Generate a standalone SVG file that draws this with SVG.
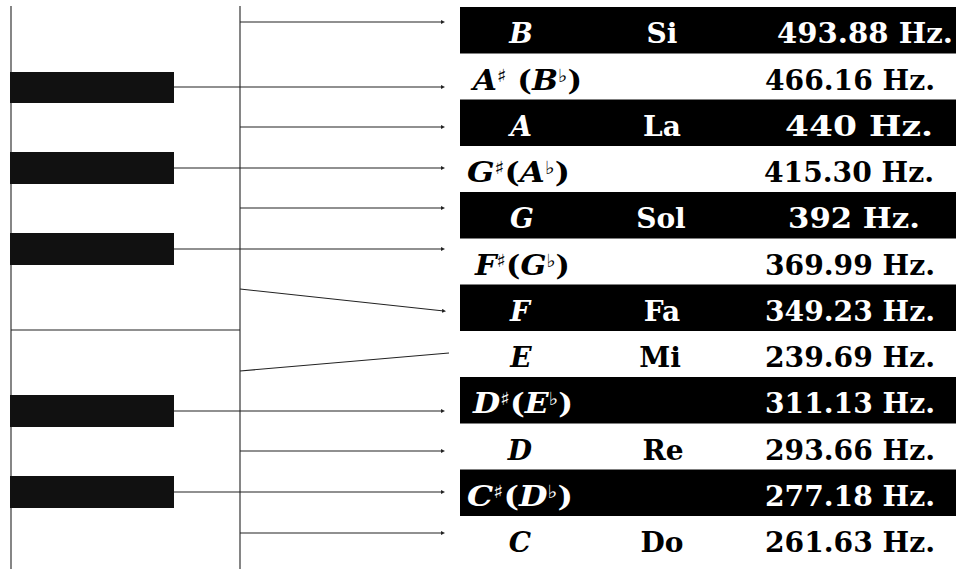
<svg xmlns="http://www.w3.org/2000/svg" width="956" height="571" viewBox="0 0 956 571">
<style>
.bg{fill:#ffffff}
.key{fill:#111111}
.wire{stroke:#222222;stroke-width:1.1;fill:none}
.bar{fill:#000000}
.t{font-family:"DejaVu Serif","Liberation Serif",serif;font-weight:bold;font-size:28px}
.w{fill:#ffffff}
.k{fill:#000000}
.it{font-style:italic}
.acc{font-size:18px;font-style:normal}
</style>
<defs>
<marker id="dot" viewBox="0 0 6 6" refX="3" refY="3" markerWidth="4" markerHeight="4" orient="auto" markerUnits="userSpaceOnUse">
<path d="M0,0 L6,3 L0,6 Z" fill="#222222"/>
</marker>
</defs>
<rect class="bg" x="0" y="0" width="956" height="571"/>
<g id="piano">
<line class="wire" x1="11" y1="6" x2="11" y2="569"/>
<line class="wire" x1="240" y1="6" x2="240" y2="569"/>
<line class="wire" x1="11" y1="330" x2="240" y2="330"/>
<rect class="key" x="10" y="72" width="164" height="31"/>
<rect class="key" x="10" y="152" width="164" height="32"/>
<rect class="key" x="10" y="233" width="164" height="32"/>
<rect class="key" x="10" y="395" width="164" height="32"/>
<rect class="key" x="10" y="476" width="164" height="32"/>
</g>
<g id="connectors">
<line class="wire" x1="240" y1="22" x2="443" y2="22" marker-end="url(#dot)"/>
<line class="wire" x1="174" y1="87" x2="443" y2="87" marker-end="url(#dot)"/>
<line class="wire" x1="240" y1="127" x2="443" y2="127" marker-end="url(#dot)"/>
<line class="wire" x1="174" y1="168" x2="443" y2="168" marker-end="url(#dot)"/>
<line class="wire" x1="240" y1="208" x2="443" y2="208" marker-end="url(#dot)"/>
<line class="wire" x1="174" y1="249" x2="443" y2="249" marker-end="url(#dot)"/>
<line class="wire" x1="240" y1="289" x2="444" y2="311" marker-end="url(#dot)"/>
<line class="wire" x1="240" y1="371" x2="449" y2="353"/>
<line class="wire" x1="174" y1="411" x2="443" y2="411" marker-end="url(#dot)"/>
<line class="wire" x1="240" y1="451" x2="443" y2="451" marker-end="url(#dot)"/>
<line class="wire" x1="174" y1="492" x2="443" y2="492" marker-end="url(#dot)"/>
<line class="wire" x1="240" y1="533" x2="443" y2="533" marker-end="url(#dot)"/>
</g>
<g id="row-B">
<rect class="bar" x="460" y="7" width="496" height="46.5"/>
<text class="t w it" x="521" y="43" text-anchor="middle">B</text>
<text class="t w" x="662" y="43" text-anchor="middle">Si</text>
<text class="t w" x="777" y="43" textLength="176" lengthAdjust="spacingAndGlyphs">493.88 Hz.</text>
</g>
<g id="row-Asharp">
<text class="t k" x="473" y="89.5" textLength="109" lengthAdjust="spacingAndGlyphs"><tspan class="it">A</tspan><tspan class="acc" dy="-8">♯</tspan><tspan dy="8"> (</tspan><tspan class="it">B</tspan><tspan class="acc" dy="-8">♭</tspan><tspan dy="8">)</tspan></text>
<text class="t k" x="765" y="89.5" textLength="170" lengthAdjust="spacingAndGlyphs">466.16 Hz.</text>
</g>
<g id="row-A">
<rect class="bar" x="460" y="99.5" width="496" height="46.5"/>
<text class="t w it" x="521" y="135.5" text-anchor="middle">A</text>
<text class="t w" x="662" y="135.5" text-anchor="middle">La</text>
<text class="t w" x="785" y="135.5" textLength="148" lengthAdjust="spacingAndGlyphs">440 Hz.</text>
</g>
<g id="row-Gsharp">
<text class="t k" x="467" y="182" textLength="103" lengthAdjust="spacingAndGlyphs"><tspan class="it">G</tspan><tspan class="acc" dy="-8">♯</tspan><tspan dy="8">(</tspan><tspan class="it">A</tspan><tspan class="acc" dy="-8">♭</tspan><tspan dy="8">)</tspan></text>
<text class="t k" x="764" y="182" textLength="170" lengthAdjust="spacingAndGlyphs">415.30 Hz.</text>
</g>
<g id="row-G">
<rect class="bar" x="460" y="192" width="496" height="46.5"/>
<text class="t w it" x="522" y="228" text-anchor="middle">G</text>
<text class="t w" x="661" y="228" text-anchor="middle">Sol</text>
<text class="t w" x="788" y="228" textLength="132" lengthAdjust="spacingAndGlyphs">392 Hz.</text>
</g>
<g id="row-Fsharp">
<text class="t k" x="475" y="274.5" textLength="95" lengthAdjust="spacingAndGlyphs"><tspan class="it">F</tspan><tspan class="acc" dy="-8">♯</tspan><tspan dy="8">(</tspan><tspan class="it">G</tspan><tspan class="acc" dy="-8">♭</tspan><tspan dy="8">)</tspan></text>
<text class="t k" x="765" y="274.5" textLength="170" lengthAdjust="spacingAndGlyphs">369.99 Hz.</text>
</g>
<g id="row-F">
<rect class="bar" x="460" y="284.5" width="496" height="46.5"/>
<text class="t w it" x="520" y="320.5" text-anchor="middle">F</text>
<text class="t w" x="662" y="320.5" text-anchor="middle">Fa</text>
<text class="t w" x="765" y="320.5" textLength="170" lengthAdjust="spacingAndGlyphs">349.23 Hz.</text>
</g>
<g id="row-E">
<text class="t k it" x="521" y="367" text-anchor="middle">E</text>
<text class="t k" x="660" y="367" text-anchor="middle">Mi</text>
<text class="t k" x="765" y="367" textLength="170" lengthAdjust="spacingAndGlyphs">239.69 Hz.</text>
</g>
<g id="row-Dsharp">
<rect class="bar" x="460" y="377" width="496" height="46.5"/>
<text class="t w" x="473" y="413" textLength="100" lengthAdjust="spacingAndGlyphs"><tspan class="it">D</tspan><tspan class="acc" dy="-8">♯</tspan><tspan dy="8">(</tspan><tspan class="it">E</tspan><tspan class="acc" dy="-8">♭</tspan><tspan dy="8">)</tspan></text>
<text class="t w" x="765" y="413" textLength="170" lengthAdjust="spacingAndGlyphs">311.13 Hz.</text>
</g>
<g id="row-D">
<text class="t k it" x="520" y="459.5" text-anchor="middle">D</text>
<text class="t k" x="663" y="459.5" text-anchor="middle">Re</text>
<text class="t k" x="765" y="459.5" textLength="170" lengthAdjust="spacingAndGlyphs">293.66 Hz.</text>
</g>
<g id="row-Csharp">
<rect class="bar" x="460" y="469.5" width="496" height="46.5"/>
<text class="t w" x="467" y="505.5" textLength="106" lengthAdjust="spacingAndGlyphs"><tspan class="it">C</tspan><tspan class="acc" dy="-8">♯</tspan><tspan dy="8">(</tspan><tspan class="it">D</tspan><tspan class="acc" dy="-8">♭</tspan><tspan dy="8">)</tspan></text>
<text class="t w" x="765" y="505.5" textLength="170" lengthAdjust="spacingAndGlyphs">277.18 Hz.</text>
</g>
<g id="row-C">
<text class="t k it" x="520" y="551.5" text-anchor="middle">C</text>
<text class="t k" x="662" y="551.5" text-anchor="middle">Do</text>
<text class="t k" x="765" y="551.5" textLength="170" lengthAdjust="spacingAndGlyphs">261.63 Hz.</text>
</g>
</svg>
